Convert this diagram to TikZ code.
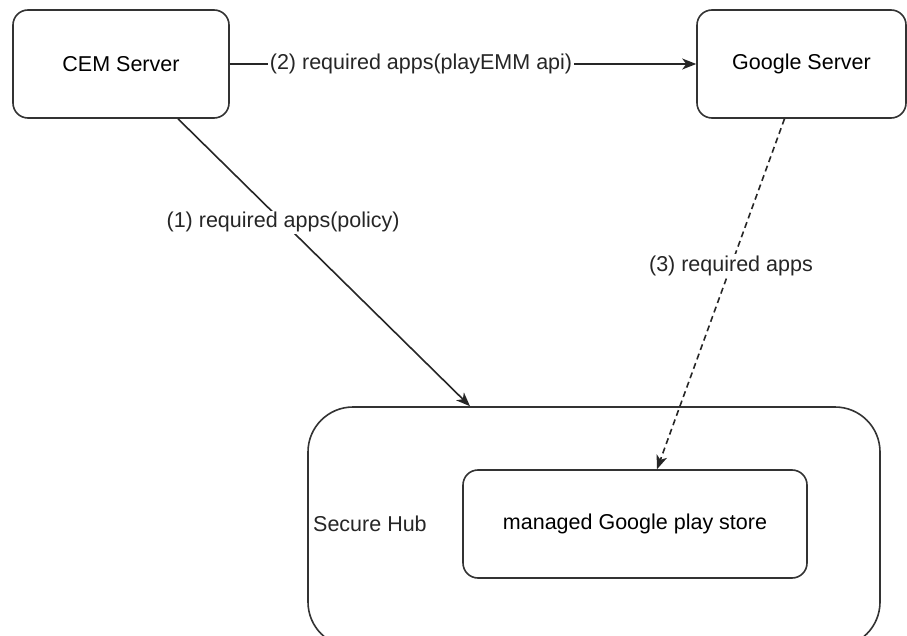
\documentclass[tikz,border=0pt]{standalone}
\usepackage{fontspec}
\setmainfont{Liberation Sans}
\usetikzlibrary{arrows.meta}
\begin{document}
\begin{tikzpicture}[x=1pt,y=-1pt,
  font=\fontsize{21.5}{25}\selectfont,
  box/.style={draw=black!80, line width=1.6pt, rounded corners=15pt, fill=white, inner sep=0pt},
  conn/.style={draw=black!85, line width=1.6pt, -{Stealth[length=14pt,width=11pt,inset=4pt]}},
  lbl/.style={fill=white, inner sep=1.5pt, text=black!85}]
\useasboundingbox (0,0) rectangle (907,636);
\fill[white] (0,0) rectangle (907,636);
\node[box, minimum width=216pt, minimum height=108pt] (cem) at (121,64) {CEM Server};
\node[box, minimum width=209pt, minimum height=108pt] (google) at (801.5,64) {Google Server};
\node[box, rounded corners=45pt, minimum width=572pt, minimum height=240pt] (hub) at (594,527) {};
\node[box, minimum width=344pt, minimum height=108pt] (store) at (635,524) {managed Google play store};
\node[anchor=west, inner sep=0pt, text=black!85] (hublbl) at (313,524) {Secure Hub};
\draw[conn] (cem) -- node[lbl, pos=0.41] {(2) required apps(playEMM api)} (google);
\draw[conn] ([xshift=57pt]cem.south) -- node[lbl, pos=0.36] {(1) required apps(policy)} ([xshift=-124pt]hub.north);
\draw[conn, dash pattern=on 6pt off 4pt] ([xshift=-17pt]google.south) -- node[lbl, pos=0.42] {(3) required apps} ([xshift=22pt]store.north);
\end{tikzpicture}
\end{document}
